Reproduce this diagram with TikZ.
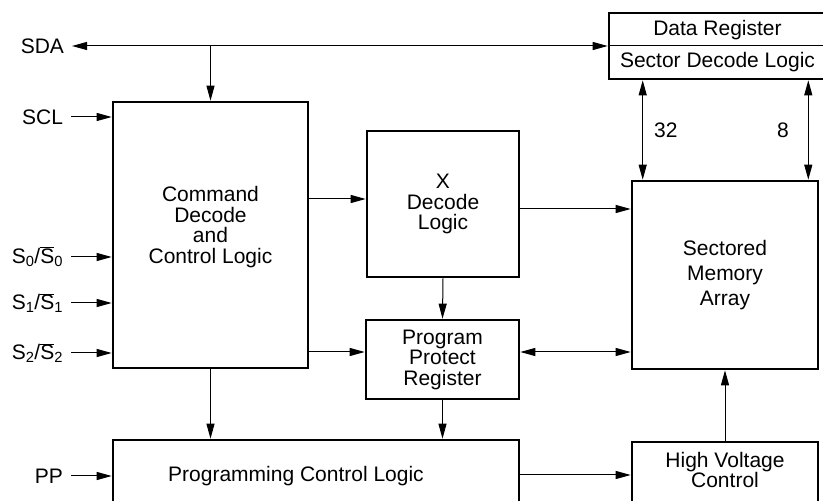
\documentclass[tikz,border=0pt]{standalone}
\usepackage{fontspec}
\setmainfont{Liberation Sans}
\usetikzlibrary{arrows.meta, positioning}

\begin{document}
\begin{tikzpicture}[
    x=1pt, y=1pt,
    box/.style={draw=black, rectangle, line width=2.6pt, inner sep=0pt, align=center, font=\fontsize{21}{20.5}\selectfont},
    txt/.style={align=center, inner sep=0pt, font=\fontsize{21}{20.5}\selectfont},
    sig/.style={anchor=east, inner sep=0pt, outer xsep=8pt, font=\fontsize{21}{20.5}\selectfont},
    line/.style={draw, line width=1pt, -{Triangle[length=15pt,width=8pt]}},
    biline/.style={draw, line width=1pt, {Triangle[length=15pt,width=8pt]}-{Triangle[length=15pt,width=8pt]}}
]
\path[use as bounding box, clip] (0,0) rectangle (823,501);

% Blocks
\node[box, minimum width=195, minimum height=266, label={[txt, name=cmdtxt, yshift=8pt]center:Command\\Decode\\and\\Control Logic}] (cmd) at (210.5,266) {};
\node[box, minimum width=152, minimum height=146] (xdec) at (443,297) {X\\Decode\\Logic};
\node[box, minimum width=153, minimum height=79] (ppr) at (442.5,141.5) {Program\\Protect\\Register};
\node[box, minimum width=186, minimum height=188, font=\fontsize{21}{25}\selectfont] (mem) at (725,226) {Sectored\\Memory\\Array};
\node[box, minimum width=406, minimum height=70, label={[txt, name=pcltxt, xshift=-20pt, yshift=-1pt]center:Programming Control Logic}] (pcl) at (316,26) {};
\node[box, minimum width=186, minimum height=68, label={[txt, name=hvtxt, yshift=6pt]center:High Voltage\\Control}] (hv) at (725,25) {};

% Data register
\node[box, minimum width=217, minimum height=66] (dreg) at (717.5,455) {};
\node[txt] (dregtxt) at ([yshift=16pt]dreg.center) {Data Register};
\node[txt] (sectxt) at ([yshift=-16pt]dreg.center) {Sector Decode Logic};
\draw[line width=1pt] (dreg.west) -- (dreg.east);

% Pins
\node[sig] (sda) at (72,455) {SDA};
\node[sig] (scl) at (71,384) {SCL};
\node[sig] (szero) at (71,244) {S\textsubscript{0}/$\overline{\mbox{S}}$\textsubscript{0}};
\node[sig] (sone) at (71,198) {S\textsubscript{1}/$\overline{\mbox{S}}$\textsubscript{1}};
\node[sig] (stwo) at (71,148) {S\textsubscript{2}/$\overline{\mbox{S}}$\textsubscript{2}};
\node[sig] (pp) at (71,25) {PP};

% Draw lines
\draw[biline] (sda.east) -- (dreg.west);
\draw[line] (sda.east -| cmd.north) -- (cmd.north);
\foreach \s in {scl, szero, sone, stwo}
    \draw[line] (\s.east) -- (\s.east -| cmd.west);
\draw[line] (pp.east) -- (pp.east -| pcl.west);

\draw[line] ([yshift=5pt]cmd.east |- xdec.west) -- ([yshift=5pt]xdec.west);
\draw[line] ([yshift=-5pt]xdec.east) -- ([yshift=-5pt]xdec.east -| mem.west);
\draw[line] (xdec.south) -- (ppr.north);
\draw[line] ([yshift=7.5pt]cmd.east |- ppr.west) -- ([yshift=7.5pt]ppr.west);
\draw[biline] ([yshift=7.5pt]ppr.east) -- ([yshift=7.5pt]ppr.east -| mem.west);
\draw[line] (cmd.south) -- (cmd.south |- pcl.north);
\draw[line] (ppr.south) -- (ppr.south |- pcl.north);
\draw[line] (pcl.east) -- (pcl.east -| hv.west);
\draw[line] (hv) -- (mem);

\draw[biline] ([xshift=12pt]mem.north west |- dreg.south) -- node[txt, right=11pt] (bwide) {32} ([xshift=12pt]mem.north west);
\draw[biline] ([xshift=-11pt]mem.north east |- dreg.south) -- node[txt, left=19pt] (bnarrow) {8} ([xshift=-11pt]mem.north east);
\end{tikzpicture}
\end{document}
